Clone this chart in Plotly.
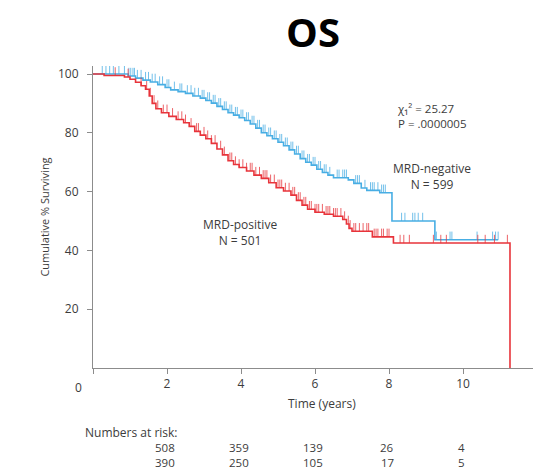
import plotly.graph_objects as go

# ---- data ----
neg_times = [0, 0.95, 1.15, 1.35, 1.55, 1.75, 1.95, 2.1, 2.3, 2.5, 2.7, 2.9, 3.05, 3.2, 3.35,
             3.5, 3.65, 3.8, 3.95, 4.1, 4.25, 4.4, 4.55, 4.7, 4.85, 5.0, 5.15, 5.3, 5.45, 5.6,
             5.75, 5.9, 6.05, 6.2, 6.35, 6.5, 6.9, 7.05, 7.25, 7.4, 7.75, 8.08, 9.24, 10.95]
neg_surv = [100, 99.3, 98.6, 97.9, 97.3, 96.4, 95.4, 94.6, 94.0, 93.4, 92.5, 91.8, 91.0, 90.1, 89.0,
            87.9, 86.8, 86.0, 85.1, 84.2, 83.0, 81.6, 80.0, 79.0, 78.0, 76.8, 75.6, 74.2, 72.8, 71.2,
            70.0, 69.0, 67.6, 66.5, 65.6, 64.7, 64.0, 62.8, 61.2, 60.4, 59.6, 50.0, 43.6, 43.6]

pos_times = [0, 0.3, 0.85, 1.0, 1.15, 1.3, 1.42, 1.52, 1.6, 1.7, 1.85, 2.05, 2.25, 2.45, 2.6,
             2.75, 2.9, 3.05, 3.2, 3.35, 3.5, 3.65, 3.8, 3.95, 4.15, 4.35, 4.55, 4.75, 4.95, 5.15,
             5.35, 5.5, 5.65, 5.8, 6.0, 6.25, 6.5, 6.75, 6.85, 6.92, 7.0, 7.55, 8.12, 11.27]
pos_surv = [100, 99.5, 99.0, 98.2, 97.2, 96.0, 94.8, 92.5, 90.0, 88.2, 86.8, 85.6, 84.5, 83.4, 82.2,
            80.5, 79.2, 78.0, 76.4, 74.5, 72.5, 70.5, 69.2, 68.2, 67.0, 65.6, 64.5, 63.0, 61.3, 60.2,
            58.8, 57.0, 55.4, 54.0, 53.0, 52.3, 51.6, 50.5, 49.0, 47.5, 46.5, 44.6, 42.5, 0]

neg_censor = [0.25, 0.35, 0.45, 0.55, 0.7, 0.85, 0.97, 1.02, 1.08, 1.12, 1.2, 1.3, 1.42, 1.5, 1.6,
              1.68, 1.8, 1.88, 2.0, 2.05, 2.2, 2.35, 2.4, 2.55, 2.65, 2.75, 2.85, 2.95, 3.0, 3.1,
              3.15, 3.25, 3.3, 3.4, 3.45, 3.55, 3.6, 3.7, 3.75, 3.85, 3.9, 4.0, 4.05, 4.15, 4.2,
              4.3, 4.35, 4.45, 4.5, 4.6, 4.65, 4.75, 4.8, 4.9, 4.95, 5.05, 5.1, 5.2, 5.25, 5.35,
              5.4, 5.5, 5.55, 5.65, 5.7, 5.8, 5.85, 5.95, 6.0, 6.1, 6.15, 6.25, 6.3, 6.4, 6.6,
              6.65, 6.75, 6.8, 6.85, 7.1, 7.15, 7.2, 7.35, 7.5, 7.55, 7.6, 7.7, 7.8, 7.85, 7.9,
              8.34, 8.43, 8.64, 8.7, 8.79, 8.91, 9.28, 9.65, 9.7, 10.38, 10.8, 10.88, 10.95]
pos_censor = [0.6, 0.95, 1.3, 1.45, 1.55, 1.65, 1.75, 1.9, 2.0, 2.15, 2.3, 2.4, 2.5, 2.65, 2.8,
              2.85, 3.0, 3.1, 3.2, 3.3, 3.45, 3.55, 3.7, 3.75, 3.85, 3.95, 4.05, 4.15, 4.25, 4.3,
              4.4, 4.5, 4.6, 4.65, 4.7, 4.8, 4.9, 5.0, 5.05, 5.1, 5.2, 5.3, 5.4, 5.45, 5.55,
              5.6, 5.7, 5.75, 5.85, 5.9, 6.0, 6.05, 6.1, 6.2, 6.3, 6.35, 6.4, 6.5, 6.55, 6.6,
              6.7, 6.8, 6.9, 6.95, 7.05, 7.1, 7.2, 7.3, 7.4, 7.45, 7.6, 7.65, 7.7, 7.8, 7.85,
              7.95, 8.0, 8.3, 8.4, 8.55, 9.2, 9.4, 9.55, 10.4, 10.6, 10.85, 11.2]

risk_times = [2, 4, 6, 8, 10]
risk_neg = [508, 359, 139, 26, 4]
risk_pos = [390, 250, 105, 17, 5]
x_ticks = [0, 2, 4, 6, 8, 10]
y_ticks = [20, 40, 60, 80, 100]

BLUE = "#48AEE4"
RED = "#E8343B"
TXT = "#3c3c3c"
AX = "#8c8c8c"
TICK_H = 2.8


def surv_at(times, surv, t):
    s = surv[0]
    for ti, si in zip(times, surv):
        if ti <= t:
            s = si
        else:
            break
    return s


def censor_segments(times, surv, cens):
    xs, ys = [], []
    for c in cens:
        s = surv_at(times, surv, c)
        xs += [c, c, None]
        ys += [s, s + TICK_H, None]
    return xs, ys


fig = go.Figure()
for times, surv, cens, col, name in [
    (neg_times, neg_surv, neg_censor, BLUE, "MRD-negative"),
    (pos_times, pos_surv, pos_censor, RED, "MRD-positive"),
]:
    fig.add_trace(go.Scatter(x=times, y=surv, mode="lines", line=dict(color=col, width=1.6, shape="hv"),
                             name=name, showlegend=False, hoverinfo="skip"))
    cx, cy = censor_segments(times, surv, cens)
    fig.add_trace(go.Scatter(x=cx, y=cy, mode="lines", line=dict(color=col, width=0.9),
                             opacity=0.85, showlegend=False, hoverinfo="skip"))

FONT = "Open Sans"


def f(size=12):
    return dict(size=size, color=TXT, family=FONT)


ann = []
ann.append(dict(x=8.16, y=85.6, xref="x", yref="y", text="χ₁² = 25.27<br>P = .0000005",
                showarrow=False, xanchor="left", yanchor="middle", align="left", font=f(11.5)))
ann.append(dict(x=9.16, y=65.3, xref="x", yref="y", text="MRD-negative<br>N = 599",
                showarrow=False, xanchor="center", yanchor="middle", font=f(12)))
ann.append(dict(x=3.97, y=46.2, xref="x", yref="y", text="MRD-positive<br>N = 501",
                showarrow=False, xanchor="center", yanchor="middle", font=f(12)))
ann.append(dict(x=0, y=0, xref="x", yref="y", text="0", showarrow=False, xanchor="center", yanchor="top",
                xshift=-15, yshift=-9, font=f(12)))
ann.append(dict(x=6.19, y=-0.116, xref="x", yref="paper", text="Time (years)", showarrow=False,
                xanchor="center", yanchor="middle", font=f(12)))
ann.append(dict(x=-10 / 440, y=-0.212, xref="paper", yref="paper", text="Numbers at risk:", showarrow=False,
                xanchor="left", yanchor="middle", font=f(12)))
for t, a, b in zip(risk_times, risk_neg, risk_pos):
    ann.append(dict(x=t, y=-0.2616, xref="x", yref="paper", text=str(a), showarrow=False, xshift=-2,
                    xanchor="center", yanchor="middle", font=f(11.5)))
    ann.append(dict(x=t, y=-0.3126, xref="x", yref="paper", text=str(b), showarrow=False, xshift=-2,
                    xanchor="center", yanchor="middle", font=f(11.5)))

fig.update_layout(
    width=533, height=469,
    margin=dict(l=93, r=0, t=66, b=101),
    paper_bgcolor="white", plot_bgcolor="white",
    title=dict(text="<b>OS</b>", x=0.5, xref="paper", y=1 - 33 / 469, yref="container",
               xanchor="center", yanchor="middle", font=dict(size=40, color="black", family=FONT)),
    xaxis=dict(range=[0, 440 / 37], tickvals=x_ticks, ticktext=["" if v == 0 else str(v) for v in x_ticks],
               showgrid=False, zeroline=False, showline=True, linecolor=AX, linewidth=1,
               ticks="outside", ticklen=5, tickcolor=AX, tickwidth=1,
               tickfont=f(12)),
    yaxis=dict(range=[0, 302 / 2.94], tickvals=y_ticks, showgrid=False, zeroline=False,
               showline=True, linecolor=AX, linewidth=1, ticks="outside", ticklen=5, tickcolor=AX,
               tickwidth=1, ticklabelstandoff=6, tickfont=f(12),
               title=dict(text="Cumulative % Surviving", standoff=6, font=f(11))),
    annotations=ann,
)

fig.write_html("out.html")
